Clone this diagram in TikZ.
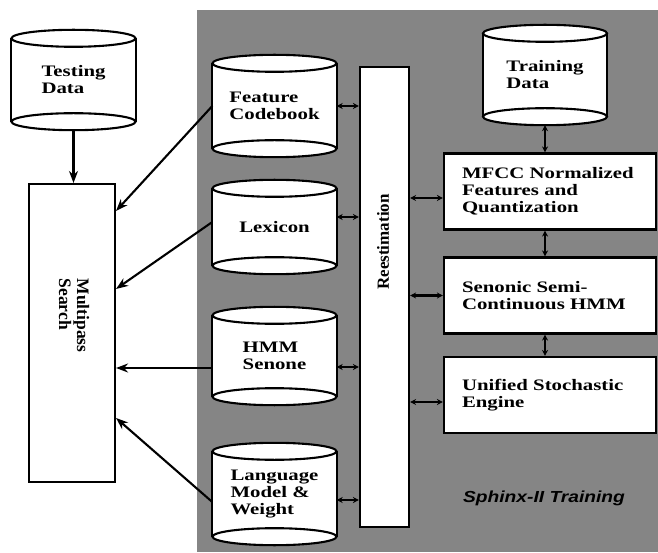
\documentclass[tikz,border=0pt]{standalone}
\usepackage{fontspec}
\setmainfont{Liberation Serif}[FakeStretch=1.3]
\newfontfamily\rotserif{Liberation Serif}
\newfontfamily\trainfont{Liberation Sans}[FakeStretch=1.2]
\usetikzlibrary{arrows.meta}

\tikzset{
  thickline/.style={line width=2.1pt},
  drum/.style={fill=white, minimum width=124pt, inner sep=0pt, align=left,
    font=\bfseries\fontsize{16}{17}\selectfont},
  stage/.style={draw, thickline, fill=white, minimum width=212pt, minimum height=76pt,
    text width=176pt, inner xsep=18pt, align=left, font=\bfseries\fontsize{16}{17}\selectfont},
  feed/.style={thickline, -{Stealth[length=12pt,width=9pt]}},
  link/.style={thickline, {Stealth[length=6pt,width=6pt]}-{Stealth[length=6pt,width=6pt]}},
}

% database drum: name, centre, body height, text
\newcommand{\drum}[4]{%
  \node[drum, minimum height=#3] (#1) at (#2) {#4};
  \draw[thickline, fill=white] (#1.north) ellipse [x radius=62pt, y radius=8.5pt];
  \draw[thickline, fill=white] (#1.south) ellipse [x radius=62pt, y radius=8.5pt];
  \draw[thickline] (#1.north west) -- (#1.south west) (#1.north east) -- (#1.south east);
}

\begin{document}
\begin{tikzpicture}[x=1pt, y=1pt]
\useasboundingbox (0,0) rectangle (658,552);
\fill[black!48] (197,0) rectangle (658,542);

% decoding side
\drum{testing}{73.5,472}{83pt}{Testing\\Data}
\node[draw, thickline, fill=white, minimum width=86pt, minimum height=298pt] (search) at (72,219) {};
\node[rotate=-90, anchor=west, align=left, font=\rotserif\bfseries\fontsize{17.5}{18}\selectfont] (searchtext) at (74,277) {Multipass\\Search};

% shared models
\drum{feat}{274.5,446}{85pt}{Feature\\Codebook}
\drum{lex}{274.5,325}{77pt}{Lexicon}
\drum{hmm}{274.5,196}{81pt}{HMM\\Senone}
\drum{lang}{274.5,58}{85pt}{Language\\Model \&\\Weight}

\node[draw, thickline, fill=white, minimum width=49pt, minimum height=460pt] (reest) at (384.5,255) {};
\node[rotate=90, font=\rotserif\bfseries\fontsize{17}{18}\selectfont] (reesttext) at (383,310) {Reestimation};

% training side
\drum{train}{545,477}{83pt}{Training\\Data}
\node[stage] (mfcc) at (550,360.5) {MFCC Normalized\\Features and\\Quantization};
\node[stage] (senon) at (550,256.5) {Senonic Semi-\\Continuous HMM};
\node[stage] (usengine) at (550,157) {Unified Stochastic\\Engine};
\node[font=\trainfont\bfseries\itshape\fontsize{16}{18}\selectfont] (title) at (544,54) {Sphinx-II Training};

% into the search
\draw[feed] ([yshift=-8.5pt]testing.south) -- (testing.south |- search.north);
\draw[feed] (feat.west) -- ([yshift=-28pt]search.north east);
\draw[feed] ([yshift=5pt]lex.west) -- ([yshift=-106pt]search.north east);
\draw[feed] ([yshift=-12pt]hmm.west) -- ([yshift=-35pt]search.east);
\draw[feed] ([yshift=-8pt]lang.west) -- ([yshift=-85pt]search.east);

% reestimation links
\coordinate (lexr) at ([yshift=10pt]lex.east);
\coordinate (hmmr) at ([yshift=-11pt]hmm.east);
\coordinate (langr) at ([yshift=-6pt]lang.east);
\coordinate (mfccl) at ([yshift=-6.5pt]mfcc.west);
\coordinate (usel) at ([yshift=-7pt]usengine.west);
\draw[link] (feat.east) -- (feat.east -| reest.west);
\draw[link] (lexr) -- (lexr -| reest.west);
\draw[link] (hmmr) -- (hmmr -| reest.west);
\draw[link] (langr) -- (langr -| reest.west);
\draw[link] (mfccl -| reest.east) -- (mfccl);
\draw[link] (senon.west -| reest.east) -- (senon.west);
\draw[link] (usel -| reest.east) -- (usel);

\draw[link] ([yshift=-8.5pt]train.south) -- (train.south |- mfcc.north);
\draw[link] (mfcc.south -| train.south) -- (senon.north -| train.south);
\draw[link] (senon.south -| train.south) -- (usengine.north -| train.south);
\end{tikzpicture}
\end{document}
